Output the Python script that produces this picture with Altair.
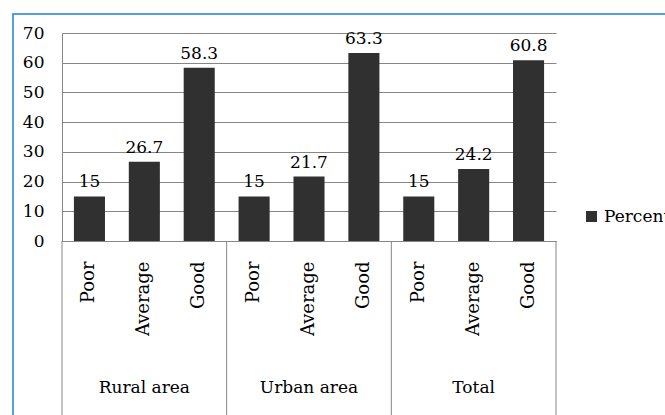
import altair as alt
import pandas as pd

groups = ["Rural area", "Urban area", "Total"]
levels = ["Poor", "Average", "Good"]
rural = [15, 26.7, 58.3]
urban = [15, 21.7, 63.3]
total = [15, 24.2, 60.8]
series_name = "Percent"
y_ticks = [0, 10, 20, 30, 40, 50, 60, 70]

vals = [rural, urban, total]
rows = []
keys = []
for g, vs in zip(groups, vals):
    for lv, v in zip(levels, vs):
        k = g + "|" + lv
        keys.append(k)
        rows.append({"key": k, "group": g, "level": lv, "value": v, "series": series_name})
df = pd.DataFrame(rows)

gdf = pd.DataFrame({"group": groups,
                    "mid": [g + "|" + levels[1] for g in groups],
                    "first": [g + "|" + levels[0] for g in groups]})
last_df = pd.DataFrame({"last": [groups[-1] + "|" + levels[-1]]})

FONT = "DejaVu Serif"
FS = 17
FSV = 18
W, H = 494, 208
BAR = "#303030"
GRID = "#868686"

xscale = alt.Scale(domain=keys, paddingInner=0, paddingOuter=0)
x_enc = alt.X("key:N", scale=xscale, sort=keys, title=None,
              axis=alt.Axis(labelExpr="split(datum.label, '|')[1]", labelAngle=-90,
                            labelFont=FONT, labelFontSize=FSV, labelColor="black",
                            labelPadding=20, ticks=False, domainColor=GRID,
                            grid=False, labelAlign="right", labelBaseline="middle"))
y_enc = alt.Y("value:Q", scale=alt.Scale(domain=[0, 70], nice=False), title=None,
              axis=alt.Axis(values=y_ticks, labelFont=FONT, labelFontSize=FS,
                            labelColor="black", labelPadding=18, ticks=False,
                            labelOverlap=False, tickCount=8,
                            domainColor=GRID, gridColor=GRID, grid=True))

border = alt.Chart(pd.DataFrame({"a": [0]})).mark_rect(
    fill="transparent", stroke="#1f7fd6", strokeWidth=1.5
).encode(x=alt.value(-49), x2=alt.value(900), y=alt.value(-19), y2=alt.value(700))

bars = alt.Chart(df).mark_bar(width=alt.RelativeBandSize(0.566)).encode(
    x=x_enc, y=y_enc,
    color=alt.Color("series:N", scale=alt.Scale(range=[BAR]),
                    legend=alt.Legend(title=None, orient="none", legendX=521, legendY=175,
                                      symbolType="square", symbolSize=121,
                                      symbolStrokeWidth=0, labelFont=FONT,
                                      labelFontSize=FS, labelColor="black",
                                      labelOffset=4))
)

labels = alt.Chart(df).mark_text(baseline="bottom", dy=-5, font=FONT, fontSize=FS,
                                 color="black").encode(
    x=x_enc, y=y_enc, text=alt.Text("value:Q"))

glabels = alt.Chart(gdf).mark_text(baseline="middle", font=FONT, fontSize=FS,
                                   color="black").encode(
    x=alt.X("mid:N", scale=xscale, sort=keys), y=alt.value(355), text="group:N")

seps = alt.Chart(gdf).mark_rule(color=GRID, strokeWidth=1).encode(
    x=alt.X("first:N", scale=xscale, sort=keys, bandPosition=0),
    y=alt.value(H), y2=alt.value(H + 200))
sep_last = alt.Chart(last_df).mark_rule(color=GRID, strokeWidth=1).encode(
    x=alt.X("last:N", scale=xscale, sort=keys, bandPosition=1),
    y=alt.value(H), y2=alt.value(H + 200))

chart = alt.layer(border, bars, labels, glabels, seps, sep_last).properties(
    width=W, height=H,
    autosize=alt.AutoSizeParams(type="none"),
    padding={"left": 62, "top": 33, "right": 665 - 62 - W, "bottom": 415 - 33 - H},
    background="white",
).configure_view(stroke=None)

chart.save("out.html", embed_options={"renderer": "svg", "actions": False})
